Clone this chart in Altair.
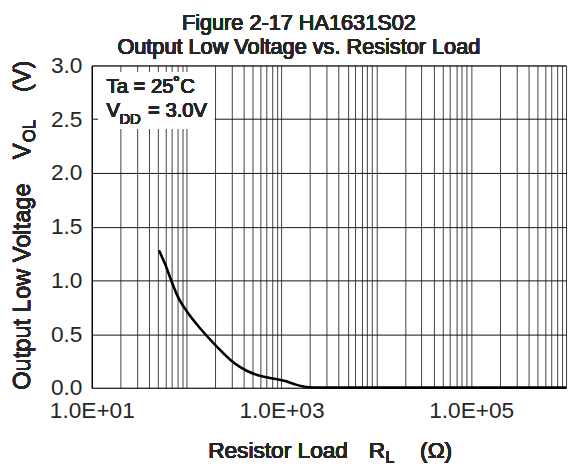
import altair as alt
import pandas as pd

# data
resistance = [51, 60, 68, 80, 102, 140, 209, 312, 429, 545, 748, 950, 1117, 1420, 1660, 1950, 2500, 5000, 10000, 100000, 1000000]
vol = [1.28, 1.14, 1.01, 0.856, 0.703, 0.55, 0.382, 0.235, 0.159, 0.122, 0.092, 0.076, 0.061, 0.03, 0.015, 0.006, 0.003, 0.002, 0.002, 0.002, 0.002]

x_grid = [d * 10 ** k for k in range(1, 6) for d in range(1, 10)] + [1000000]
y_ticks = [0, 0.5, 1.0, 1.5, 2.0, 2.5, 3.0]

df = pd.DataFrame({"R": resistance, "V": vol})

FONT = "Liberation Sans"
W, H = 481, 327
TC = "#262626"

x_enc = alt.X("R:Q",
              scale=alt.Scale(type="log", domain=[10, 1000000], nice=False),
              axis=alt.Axis(values=x_grid, grid=True, ticks=False, title=None,
                            labelExpr="datum.value == 10 ? '1.0E+01' : datum.value == 1000 ? '1.0E+03' : datum.value == 100000 ? '1.0E+05' : ''",
                            labelFont=FONT, labelFontSize=23, labelFontWeight=400, labelColor=TC,
                            labelPadding=12, labelOverlap=False, labelFlush=False,
                            gridColor="#404040", gridWidth=1, gridOpacity=1,
                            domainColor="#333", domainWidth=1))
y_enc = alt.Y("V:Q",
              scale=alt.Scale(domain=[0, 3], nice=False),
              axis=alt.Axis(values=y_ticks, format=".1f", grid=True, ticks=False, title=None,
                            labelFont=FONT, labelFontSize=23, labelFontWeight=400, labelColor=TC,
                            labelPadding=10,
                            gridColor="#111", gridWidth=1, gridOpacity=1,
                            domainColor="black", domainWidth=1.2))

line = alt.Chart(df).mark_line(color="black", strokeWidth=2.6, interpolate="monotone").encode(x=x_enc, y=y_enc)

def txt(s, x, y, size=22, align="left", angle=0):
    return alt.Chart(df).mark_text(text=s, font=FONT, fontSize=size, fontWeight=400, color=TC,
                                   align=align, baseline="alphabetic", angle=angle).encode(
        x=alt.value(x), y=alt.value(y))

box = alt.Chart(df).mark_rect(color="white").encode(
    x=alt.value(7), x2=alt.value(124), y=alt.value(7), y2=alt.value(64))

layers = [
    line, box,
    txt("Ta = 25˚C", 15, 28, 20.5),
    txt("V", 15, 52, 20.5),
    txt("DD", 28, 59, 15),
    txt("= 3.0V", 57, 52, 20.5),
    txt("Figure 2-17   HA1631S02", 210, -36, 22, "center"),
    txt("Output Low Voltage vs. Resistor Load", 210, -12, 22, "center"),
    txt("Resistor Load", 118, 398, 23),
    txt("R", 281, 398, 23),
    txt("L", 298, 403, 16),
    txt("(Ω)", 333, 398, 23),
    txt("Output Low Voltage", -63, 329, 24, "left", 270),
    txt("V", -63, 95, 24, "left", 270),
    txt("OL", -58, 78, 17, "left", 270),
    txt("(V)", -63, 27, 24, "left", 270),
]

chart = alt.layer(*layers).properties(
    width=W, height=H,
    autosize=alt.AutoSizeParams(type="none"),
    padding={"left": 85, "top": 55, "right": 2, "bottom": 78},
).configure_view(stroke="#555", strokeWidth=1)

chart.save("out.html", embed_options={"renderer": "svg", "actions": False})
